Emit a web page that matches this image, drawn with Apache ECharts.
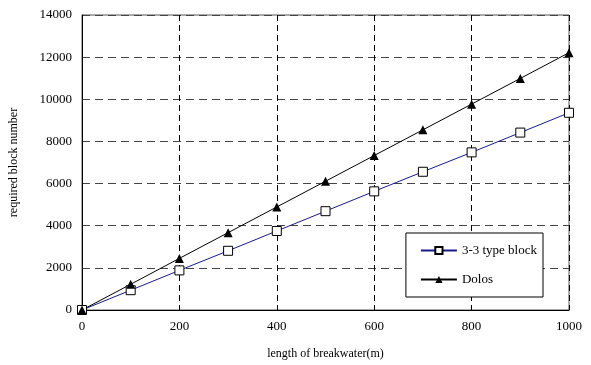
<!DOCTYPE html>
<html>
<head>
<meta charset="utf-8">
<script src="https://cdn.jsdelivr.net/npm/echarts@6/dist/echarts.min.js"></script>
<style>
  html, body { margin: 0; padding: 0; background: #fff; }
  #chart { width: 591px; height: 365px; }
</style>
</head>
<body>
<div id="chart"></div>
<script>
const lengths = [0, 100, 200, 300, 400, 500, 600, 700, 800, 900, 1000]
const block33 = [0, 940, 1880, 2810, 3750, 4690, 5630, 6560, 7480, 8420, 9360]
const dolos = [0, 1220, 2450, 3670, 4890, 6110, 7330, 8550, 9770, 10990, 12210]

const chart = echarts.init(document.getElementById('chart'))
const font = 'Liberation Serif, Times New Roman, serif'

chart.setOption({
    animation: false,
    textStyle: { fontFamily: font },
    grid: {
        left: 81,
        right: 22,
        top: 15,
        bottom: 54,
        show: true,
        borderColor: '#555',
        borderWidth: 1
    },
    legend: {
        right: 48,
        top: 233,
        orient: 'vertical',
        backgroundColor: '#fff',
        borderColor: '#000',
        borderWidth: 1,
        padding: [11, 6, 11, 14],
        itemGap: 16,
        itemWidth: 36,
        itemHeight: 9,
        textStyle: { fontFamily: font, fontSize: 13, color: '#000' },
        data: ['3-3 type block', 'Dolos']
    },
    xAxis: {
        type: 'value',
        min: 0,
        max: 1000,
        interval: 200,
        name: 'length of breakwater(m)',
        nameLocation: 'middle',
        nameGap: 38,
        nameTextStyle: { fontFamily: font, fontSize: 12, color: '#000' },
        axisLine: { lineStyle: { color: '#000' } },
        axisTick: { show: false },
        axisLabel: { fontFamily: font, fontSize: 13, color: '#000', margin: 10, formatter: v => String(v) },
        splitLine: { lineStyle: { color: '#000', type: [6, 4] } }
    },
    yAxis: {
        type: 'value',
        min: 0,
        max: 14000,
        interval: 2000,
        name: 'required block number',
        nameLocation: 'middle',
        nameGap: 62,
        nameTextStyle: { fontFamily: font, fontSize: 12, color: '#000' },
        axisLine: { show: true, lineStyle: { color: '#000' } },
        axisTick: { show: false },
        axisLabel: { fontFamily: font, fontSize: 13, color: '#000', margin: 10, formatter: v => String(v) },
        splitLine: { lineStyle: { color: '#444', type: [8, 5] } }
    },
    series: [{
        name: '3-3 type block',
        type: 'line',
        symbol: 'rect',
        symbolSize: 9,
        data: lengths.map((x, i) => [x, block33[i]]),
        lineStyle: { color: '#1a1a8c', width: 1 },
        itemStyle: { color: '#fff', borderColor: '#000', borderWidth: 1 }
    }, {
        name: 'Dolos',
        type: 'line',
        symbol: 'triangle',
        symbolSize: 9,
        data: lengths.map((x, i) => [x, dolos[i]]),
        lineStyle: { color: '#000', width: 1 },
        itemStyle: { color: '#000' }
    }]
})
</script>
</body>
</html>
